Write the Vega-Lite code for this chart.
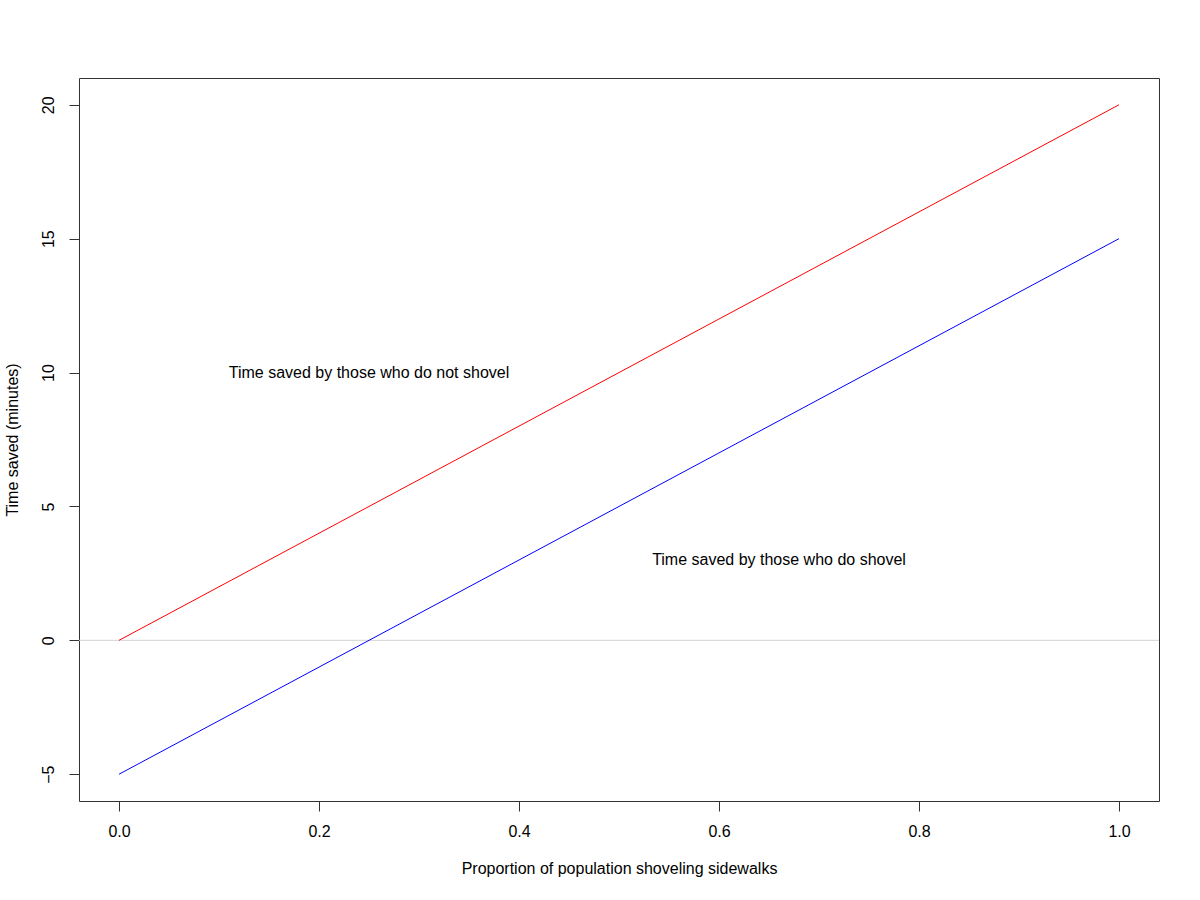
{
  "$schema": "https://vega.github.io/schema/vega-lite/v6.json",
  "width": 1080,
  "height": 723,
  "autosize": {"type": "none"},
  "padding": {"left": 79, "top": 78, "right": 41, "bottom": 99},
  "background": "white",
  "config": {
    "view": {"stroke": "#333333", "strokeWidth": 1},
    "font": "Liberation Sans",
    "axis": {
      "grid": false,
      "domain": false,
      "tickColor": "#333333",
      "tickSize": 10,
      "labelFont": "Liberation Sans",
      "labelFontSize": 16,
      "labelColor": "black",
      "titleFont": "Liberation Sans",
      "titleFontSize": 16,
      "titleFontWeight": "normal",
      "titleColor": "black"
    }
  },
  "datasets": {
    "lines": [
      {"p": 0, "t": 0, "group": "not"},
      {"p": 1, "t": 20, "group": "not"},
      {"p": 0, "t": -5, "group": "do"},
      {"p": 1, "t": 15, "group": "do"}
    ],
    "labels": [
      {"p": 0.25, "t": 10, "label": "Time saved by those who do not shovel"},
      {"p": 0.66, "t": 3, "label": "Time saved by those who do shovel"}
    ],
    "zero": [{"t": 0}]
  },
  "layer": [
    {
      "data": {"name": "zero"},
      "mark": {"type": "rule", "color": "#d3d3d3", "strokeWidth": 1},
      "encoding": {
        "y": {"field": "t", "type": "quantitative", "scale": {"domain": [-6, 21], "nice": false, "zero": false}}
      }
    },
    {
      "data": {"name": "lines"},
      "mark": {"type": "line", "strokeWidth": 1},
      "encoding": {
        "x": {
          "field": "p", "type": "quantitative",
          "scale": {"domain": [-0.04, 1.04], "nice": false, "zero": false},
          "axis": {"values": [0, 0.2, 0.4, 0.6, 0.8, 1.0], "format": ".1f", "labelPadding": 12, "title": "Proportion of population shoveling sidewalks", "titlePadding": 21}
        },
        "y": {
          "field": "t", "type": "quantitative",
          "scale": {"domain": [-6, 21], "nice": false, "zero": false},
          "axis": {"values": [-5, 0, 5, 10, 15, 20], "labelAngle": -90, "labelAlign": "center", "labelBaseline": "bottom", "labelPadding": 13, "title": "Time saved (minutes)", "titlePadding": 20}
        },
        "color": {
          "field": "group", "type": "nominal",
          "scale": {"domain": ["not", "do"], "range": ["#ff0000", "#0000ff"]},
          "legend": null
        },
        "detail": {"field": "group"}
      }
    },
    {
      "data": {"name": "labels"},
      "mark": {"type": "text", "fontSize": 16, "font": "Liberation Sans", "color": "black", "align": "center", "baseline": "middle"},
      "encoding": {
        "x": {"field": "p", "type": "quantitative"},
        "y": {"field": "t", "type": "quantitative"},
        "text": {"field": "label"}
      }
    }
  ]
}
